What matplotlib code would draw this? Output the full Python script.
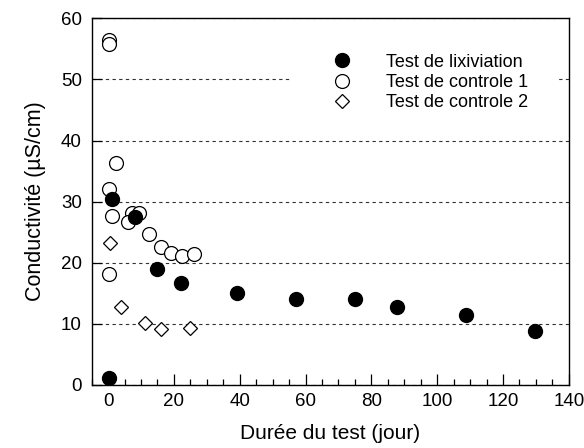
import numpy as np
import matplotlib
matplotlib.use("Agg")
import matplotlib.pyplot as plt
from matplotlib.patches import Rectangle
from matplotlib.ticker import MultipleLocator

plt.rcParams['font.family'] = ['Liberation Sans', 'DejaVu Sans']

# ----------------------------
# données
# ----------------------------
lix_x = [0.4, 1.2, 8.3, 15.0, 22.1, 39.1, 57.1, 75.0, 87.9, 108.8, 129.7]
lix_y = [1.1, 30.5, 27.5, 19.0, 16.75, 15.0, 14.0, 14.0, 12.8, 11.4, 8.8]

ctrl1_x = [0.4, 0.4, 2.4, 0.2, 1.2, 7.3, 9.5, 6.1, 12.3, 0.2, 16.1, 19.2, 22.4, 26.2]
ctrl1_y = [56.5, 55.8, 36.3, 32.1, 27.6, 28.2, 28.2, 26.6, 24.7, 18.1, 22.5, 21.6, 21.1, 21.5]

ctrl2_x = [0.7, 3.9, 11.1, 16.2, 24.9]
ctrl2_y = [23.3, 12.7, 10.1, 9.1, 9.25]

labels = ["Test de lixiviation", "Test de controle 1", "Test de controle 2"]

# ----------------------------
# figure
# ----------------------------
fig = plt.figure(figsize=(5.84, 4.48), dpi=100)
ax = fig.add_axes([0.157, 0.141, 0.817, 0.818])

ax.set_xlim(-5, 140)
ax.set_ylim(0, 60)
ax.xaxis.set_major_locator(MultipleLocator(20))
ax.xaxis.set_minor_locator(MultipleLocator(5))
ax.yaxis.set_major_locator(MultipleLocator(10))

ax.tick_params(axis='x', which='major', direction='in', length=8, width=0.9, labelsize=13.5, pad=6)
ax.tick_params(axis='x', which='minor', direction='in', length=4, width=0.9)
ax.tick_params(axis='y', which='major', direction='in', length=7, width=0.9, labelsize=13.5, pad=7)

for s in ax.spines.values():
    s.set_linewidth(1.0)

# lignes de grille pointillées
ax.grid(axis='y', linestyle=(0, (3, 3)), color='#333333', linewidth=0.8)
ax.set_axisbelow(True)

# fond blanc derrière la légende (coupe la grille à 50)
ax.add_patch(Rectangle((0.4155, 0.75), 0.56, 0.175, transform=ax.transAxes,
                       facecolor='white', edgecolor='none', zorder=1.5))

ax.plot(ctrl1_x, ctrl1_y, 'o', ms=10, mfc='white', mec='black', mew=0.9, label=labels[1], zorder=3)
ax.plot(ctrl2_x, ctrl2_y, 'D', ms=7, mfc='white', mec='black', mew=0.9, label=labels[2], zorder=3)
ax.plot(lix_x, lix_y, 'o', ms=10, mfc='black', mec='black', label=labels[0], zorder=4)

# ordre de la légende comme l'original
h, l = ax.get_legend_handles_labels()
order = [l.index(s) for s in labels]
ax.legend([h[i] for i in order], [l[i] for i in order],
          loc='upper left', bbox_to_anchor=(0.505, 0.904), frameon=False,
          prop={'size': 13}, handlelength=1.0, handletextpad=1.95, labelspacing=0.19,
          borderpad=0, borderaxespad=0, numpoints=1)

ax.set_xlabel("Durée du test (jour)", fontsize=15, labelpad=10)
ax.set_ylabel("Conductivité (µS/cm)", fontsize=15.5, labelpad=11)

fig.savefig("out.png", dpi=100)
